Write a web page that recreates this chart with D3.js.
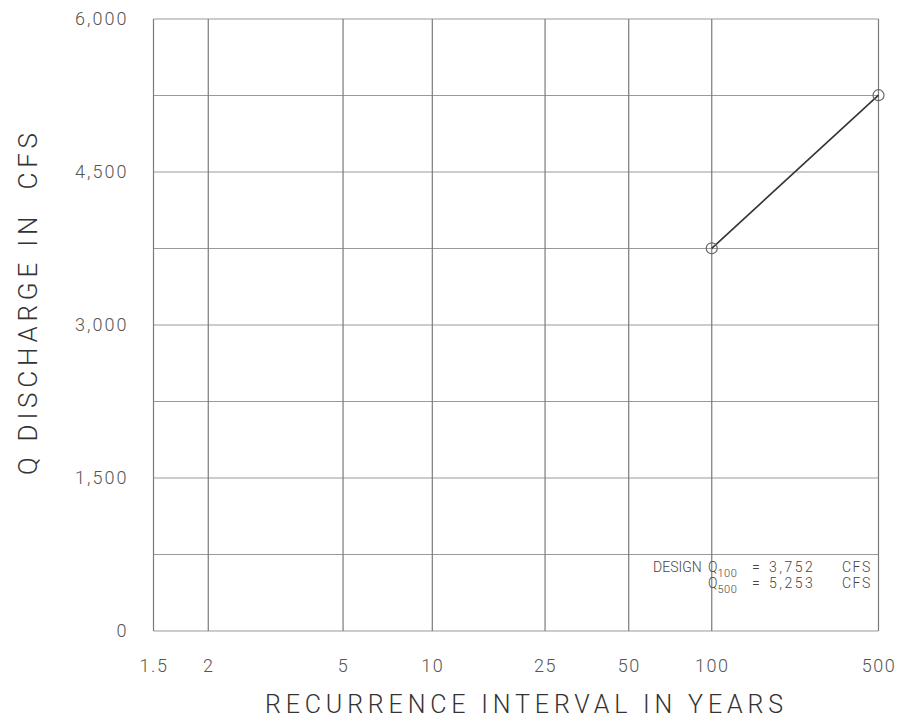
<!DOCTYPE html>
<html lang="en">
<head>
<meta charset="utf-8">
<title>Discharge frequency</title>
<script src="https://cdn.jsdelivr.net/npm/d3@7"></script>
<style>
  body { margin: 0; background: white; }
  text { font-family: 'Roboto', 'DejaVu Sans', sans-serif; font-weight: 300; fill: #444; }
</style>
</head>
<body>
<div id="chart"></div>
<script>
// recurrence interval (years) and peak discharge (cfs)
const returnPeriods = [100, 500];
const discharge = [3752, 5253];

const xTickValues = [1.5, 2, 5, 10, 25, 50, 100, 500];
const yGridValues = [0, 750, 1500, 2250, 3000, 3750, 4500, 5250, 6000];
const yTickValues = [0, 1500, 3000, 4500, 6000];

const designRows = [
  { sub: "100", value: "3,752" },
  { sub: "500", value: "5,253" }
];

const W = 902, H = 723;
const margin = { top: 19, right: 23.5, bottom: 92, left: 153.5 };
const width = W - margin.left - margin.right;
const height = H - margin.top - margin.bottom;

// gumbel reduced variate for the probability paper
const gumbel = T => -Math.log(-Math.log(1 - 1 / T));

// paper is squeezed between 100 and 500 yr
const x = d3.scaleLinear()
  .domain([gumbel(1.5), gumbel(100), gumbel(500)])
  .range([0, width * 0.77, width]);
const xPos = T => x(gumbel(T));

const y = d3.scaleLinear().domain([0, 6000]).range([height, 0]);

const svg = d3.select("#chart").append("svg")
  .attr("width", W)
  .attr("height", H);

const g = svg.append("g")
  .attr("transform", `translate(${margin.left},${margin.top})`);

// grid
g.selectAll(".hgrid")
  .data(yGridValues)
  .enter().append("line")
  .attr("x1", 0).attr("x2", width)
  .attr("y1", d => y(d)).attr("y2", d => y(d))
  .style("stroke", "#999")
  .style("stroke-width", 1);

g.selectAll(".vgrid")
  .data(xTickValues)
  .enter().append("line")
  .attr("x1", d => xPos(d)).attr("x2", d => xPos(d))
  .attr("y1", 0).attr("y2", height)
  .style("stroke", "#7a7a7a")
  .style("stroke-width", 1.2);

// axes (labels only)
const xAxis = d3.axisBottom(x)
  .tickValues(xTickValues.map(gumbel))
  .tickFormat((d, i) => xTickValues[i])
  .tickSize(0)
  .tickPadding(28);

g.append("g")
  .attr("transform", `translate(0,${height})`)
  .call(xAxis)
  .call(a => a.select(".domain").remove())
  .selectAll("text")
  .style("font-size", "18px")
  .style("letter-spacing", "1.5px")
  .style("font-family", "'Roboto', sans-serif")
  .style("fill", "#555");

const yAxis = d3.axisLeft(y)
  .tickValues(yTickValues)
  .tickFormat(d3.format(","))
  .tickSize(0)
  .tickPadding(25);

g.append("g")
  .call(yAxis)
  .call(a => a.select(".domain").remove())
  .selectAll("text")
  .style("font-size", "18px")
  .style("letter-spacing", "2px")
  .style("font-family", "'Roboto', sans-serif")
  .style("fill", "#555");

// frequency line
const line = d3.line()
  .x((d, i) => xPos(returnPeriods[i]))
  .y(d => y(d));

g.append("path")
  .datum(discharge)
  .attr("d", line)
  .style("fill", "none")
  .style("stroke", "#333")
  .style("stroke-width", 1.6);

g.selectAll(".pt")
  .data(discharge)
  .enter().append("circle")
  .attr("cx", (d, i) => xPos(returnPeriods[i]))
  .attr("cy", d => y(d))
  .attr("r", 5.5)
  .style("fill", "none")
  .style("stroke", "#666")
  .style("stroke-width", 1.2);

// titles
svg.append("text")
  .attr("x", 524)
  .attr("y", 713)
  .attr("text-anchor", "middle")
  .attr("textLength", 518)
  .attr("lengthAdjust", "spacing")
  .style("font-size", "25px")
  .style("fill", "#333")
  .text("RECURRENCE INTERVAL IN YEARS");

svg.append("text")
  .attr("transform", "translate(37,304) rotate(-90)")
  .attr("text-anchor", "middle")
  .attr("textLength", 342)
  .attr("lengthAdjust", "spacing")
  .style("font-size", "26px")
  .style("fill", "#333")
  .style("white-space", "pre")
  .text("Q DISCHARGE IN  CFS");

// design note
const note = svg.append("g").style("font-size", "14px").style("fill", "#444");
note.append("text").attr("x", 653).attr("y", 572).text("DESIGN");
designRows.forEach((r, i) => {
  const by = 572 + i * 16;
  const t = note.append("text").attr("x", 708).attr("y", by);
  t.append("tspan").text("Q");
  t.append("tspan").attr("dy", 5).style("font-size", "11px").style("letter-spacing", "0.5px").text(r.sub);
  note.append("text").attr("x", 752).attr("y", by).text("=");
  note.append("text").attr("x", 769).attr("y", by).style("letter-spacing", "2.5px").text(r.value);
  note.append("text").attr("x", 842).attr("y", by).style("letter-spacing", "1.5px").text("CFS");
});
</script>
</body>
</html>
